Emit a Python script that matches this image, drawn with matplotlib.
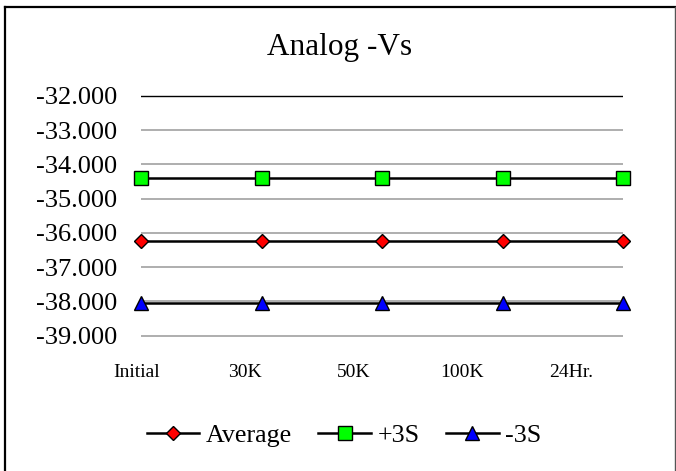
import matplotlib
matplotlib.use("Agg")
import matplotlib.pyplot as plt
from matplotlib.lines import Line2D
import matplotlib.transforms as mtransforms

categories = ["Initial", "30K", "50K", "100K", "24Hr."]
average = [-36.23, -36.23, -36.23, -36.23, -36.23]
plus3s = [-34.39, -34.39, -34.39, -34.39, -34.39]
minus3s = [-38.06, -38.06, -38.06, -38.06, -38.06]
y_ticks = [-39, -38, -37, -36, -35, -34, -33, -32]

W, H = 676, 471
plt.rcParams['font.family'] = ['Liberation Serif', 'DejaVu Serif']
fig = plt.figure(figsize=(W / 100, H / 100), dpi=100)

def fx(px):
    return px / W

def fy(py):
    return 1 - py / H

# chart frame
fig.add_artist(Line2D([fx(5), fx(5)], [fy(6.5), -0.05], color='black', lw=1.6, transform=fig.transFigure))
fig.add_artist(Line2D([fx(5), fx(674.5)], [fy(6.5), fy(6.5)], color='black', lw=1.6, transform=fig.transFigure))
fig.add_artist(Line2D([fx(674.5), fx(674.5)], [fy(6.5), -0.05], color='#555555', lw=1.0, transform=fig.transFigure))

ppu = (335.6 - 96) / 7.0
ymin, ymax = -39.05, -31.95
top_px = 96 - (ymax + 32) * ppu
bot_px = 335.6 + (-39 - ymin) * ppu
ax = fig.add_axes([fx(141), fy(bot_px), fx(623) - fx(141), (bot_px - top_px) / H])
ax.set_xlim(0, 4)
ax.set_ylim(ymin, ymax)
for s in ax.spines.values():
    s.set_visible(False)

for v in y_ticks:
    ax.axhline(v, color='black' if v == -32 else '#999999', lw=1.0 if v == -32 else 1.1, zorder=1)

x = list(range(len(categories)))
ax.plot(x, average, color='black', lw=1.8, marker='D', markersize=6.8,
        markerfacecolor='#ff0000', markeredgecolor='black', markeredgewidth=1.0,
        clip_on=False, zorder=3, label='Average')
ax.plot(x, plus3s, color='black', lw=1.8, marker='s', markersize=9.8,
        markerfacecolor='#00ff00', markeredgecolor='black', markeredgewidth=1.0,
        clip_on=False, zorder=3, label='+3S')
ax.plot(x, minus3s, color='black', lw=1.8, marker='^', markersize=10,
        markerfacecolor='#0000ff', markeredgecolor='black', markeredgewidth=1.0,
        clip_on=False, zorder=3, label='-3S')

ax.set_yticks(y_ticks)
ax.set_yticklabels([f"{v:.3f}" for v in y_ticks])
ax.tick_params(axis='y', length=0, pad=17, labelsize=19)
ax.set_xticks([])

# category labels (rendered with the slightly compressed spacing of the original)
trans = mtransforms.blended_transform_factory(ax.transData, ax.transAxes)
for i, lab in enumerate(categories):
    ax.annotate(lab, xy=(0.901 * i - 0.037, 0), xycoords=trans,
                xytext=(0, -25.5), textcoords='offset points',
                ha='center', va='center', fontsize=14, annotation_clip=False)

fig.text(fx(340), fy(47), "Analog -Vs", ha='center', va='center', fontsize=22.5)

handles, labels = ax.get_legend_handles_labels()
fig.legend(handles, labels, loc='center', bbox_to_anchor=(fx(344), fy(435)),
           ncol=3, frameon=False, fontsize=18.7, handlelength=2.04,
           handletextpad=0.25, columnspacing=1.0)

fig.savefig("out.png", dpi=100)
